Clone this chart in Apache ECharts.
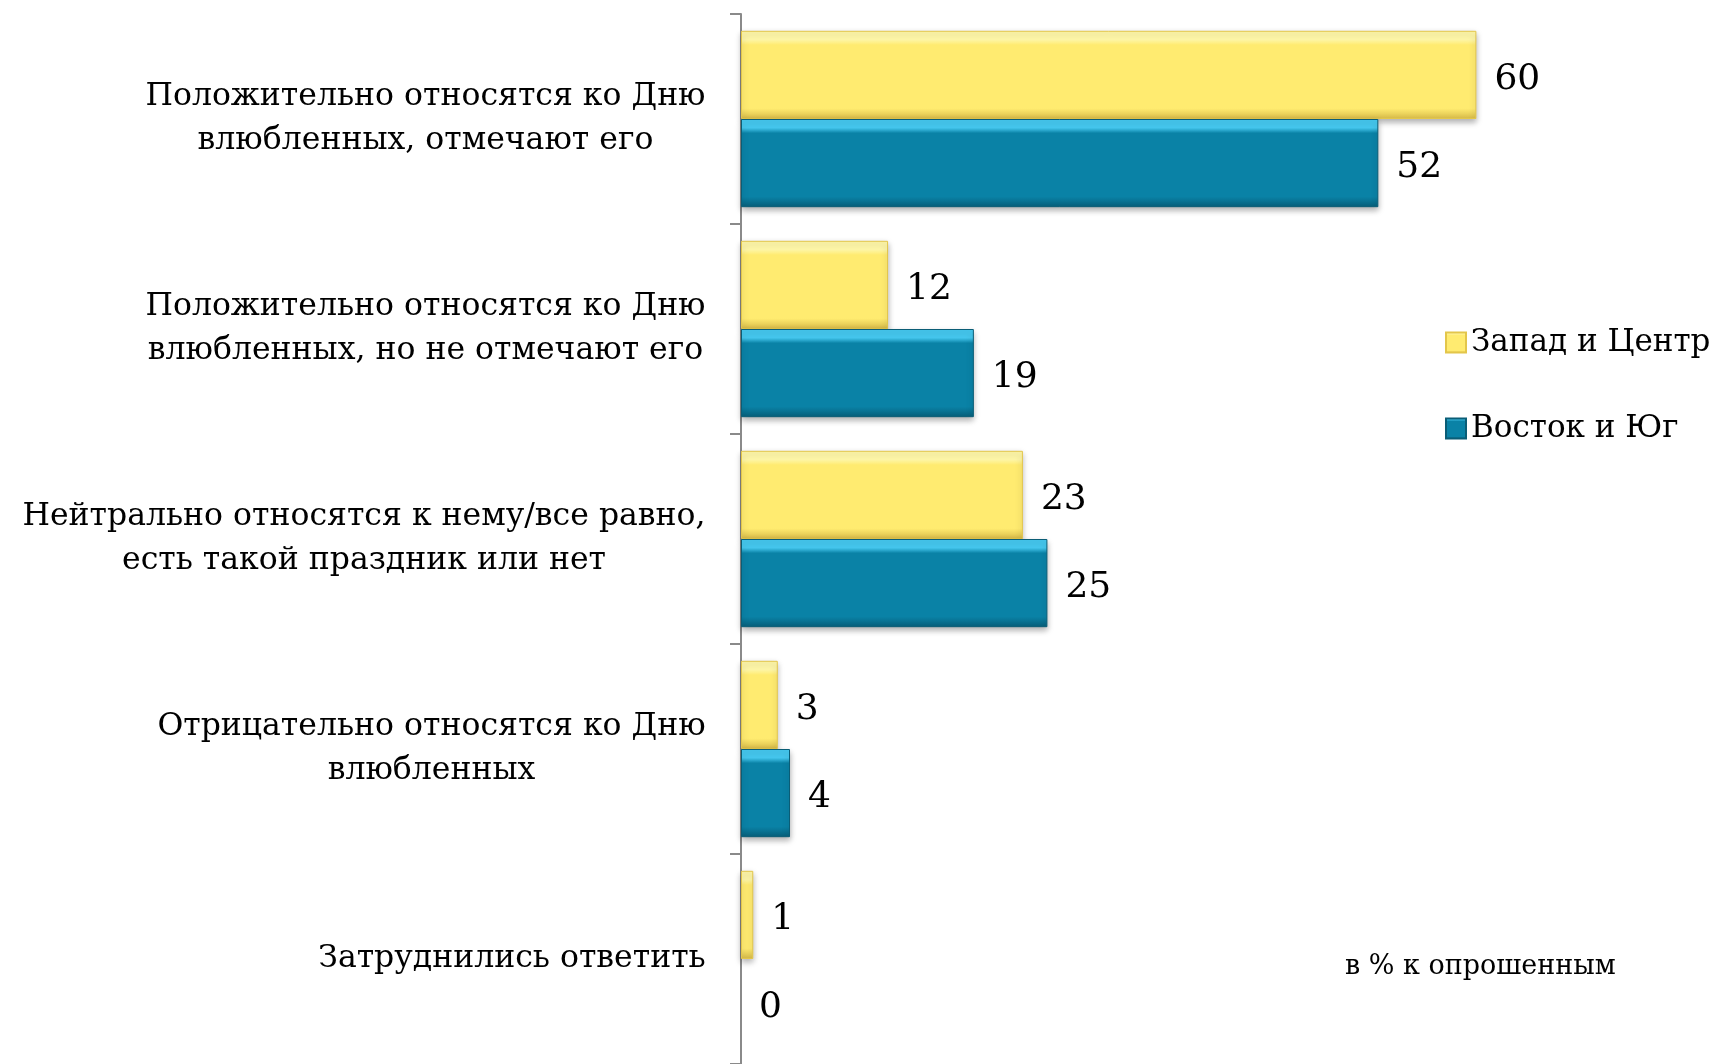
<!DOCTYPE html>
<html>
<head>
<meta charset="utf-8">
<script src="https://cdn.jsdelivr.net/npm/echarts@6/dist/echarts.min.js"></script>
<style>
  html, body { margin: 0; padding: 0; background: #fff; }
  #chart { width: 1717px; height: 1064px; }
</style>
</head>
<body>
<div id="chart"></div>
<script>
// категории (сверху вниз), каждая строка подписи отдельно
const categories = [
  ['Положительно относятся ко Дню', 'влюбленных, отмечают его'],
  ['Положительно относятся ко Дню', 'влюбленных, но не отмечают его'],
  ['Нейтрально относятся к нему/все равно,', 'есть такой праздник или нет'],
  ['Отрицательно относятся ко Дню', 'влюбленных'],
  ['Затруднились ответить']
]
const westCenter = [60, 12, 23, 3, 1]  // Запад и Центр
const eastSouth = [52, 19, 25, 4, 0]   // Восток и Юг
const seriesNames = ['Запад и Центр', 'Восток и Юг']
const note = 'в % к опрошенным'

const FONT = '"DejaVu Serif", serif'
const labelSize = 31.5

// ширина самой длинной строки — чтобы строки центрировались друг под другом
const ctx = document.createElement('canvas').getContext('2d')
ctx.font = labelSize + 'px ' + FONT
const rich = {}
categories.forEach((lines, i) => {
  const w = Math.max(...lines.map(l => ctx.measureText(l).width))
  rich['c' + i] = { width: Math.ceil(w) + 2, align: 'center', fontSize: labelSize, fontFamily: FONT, lineHeight: 44, color: '#000' }
})

function bevel (light, base, dark) {
  return {
    type: 'linear', x: 0, y: 0, x2: 0, y2: 1,
    colorStops: [
      { offset: 0, color: light },
      { offset: 0.1, color: light },
      { offset: 0.16, color: base },
      { offset: 0.88, color: base },
      { offset: 1, color: dark }
    ]
  }
}

// нулевые столбики без обводки
const bars = values => values.map(v => v === 0 ? { value: v, itemStyle: { borderWidth: 0, shadowBlur: 0 } } : v)

const valueLabel = { show: true, position: 'right', distance: 18, offset: [0, 5], fontFamily: FONT, fontSize: 36, color: '#000' }

const chart = echarts.init(document.getElementById('chart'))
chart.setOption({
  animation: false,
  grid: { left: 741, top: 14, right: 20, bottom: 0 },
  legend: {
    orient: 'vertical',
    left: 1440,
    top: 322,
    itemWidth: 20,
    itemHeight: 20,
    itemGap: 55,
    icon: 'rect',
    textStyle: { fontFamily: FONT, fontSize: 31, color: '#000' },
    data: seriesNames
  },
  xAxis: {
    type: 'value',
    min: 0,
    max: 78,
    show: false
  },
  yAxis: {
    type: 'category',
    inverse: true,
    data: categories.map((_, i) => i),
    axisLine: { lineStyle: { color: '#8a8a8a', width: 2 } },
    axisTick: { show: true, length: 11, lineStyle: { color: '#8a8a8a', width: 2 } },
    axisLabel: {
      margin: 34,
      formatter: (v, idx) => categories[idx].map(l => '{c' + idx + '|' + l + '}').join('\n'),
      rich: rich
    }
  },
  series: [
    {
      name: seriesNames[0],
      type: 'bar',
      data: bars(westCenter),
      barGap: '0%',
      barCategoryGap: '16%',
      itemStyle: {
        color: bevel('#fff7a8', '#ffeb70', '#d8bb48'),
        borderColor: '#e3c64a',
        borderWidth: 1,
        shadowColor: 'rgba(0,0,0,0.3)',
        shadowBlur: 6,
        shadowOffsetY: 3
      },
      label: valueLabel
    },
    {
      name: seriesNames[1],
      type: 'bar',
      data: bars(eastSouth),
      barGap: '0%',
      barCategoryGap: '16%',
      itemStyle: {
        color: bevel('#45c8ef', '#0a82a6', '#075e79'),
        borderColor: '#0a5d76',
        borderWidth: 1,
        shadowColor: 'rgba(0,0,0,0.3)',
        shadowBlur: 6,
        shadowOffsetY: 3
      },
      label: valueLabel
    }
  ],
  graphic: [{
    type: 'text',
    left: 1345,
    top: 953,
    style: { text: note, fontFamily: FONT, fontSize: 27, fill: '#000' }
  }]
})
</script>
</body>
</html>
